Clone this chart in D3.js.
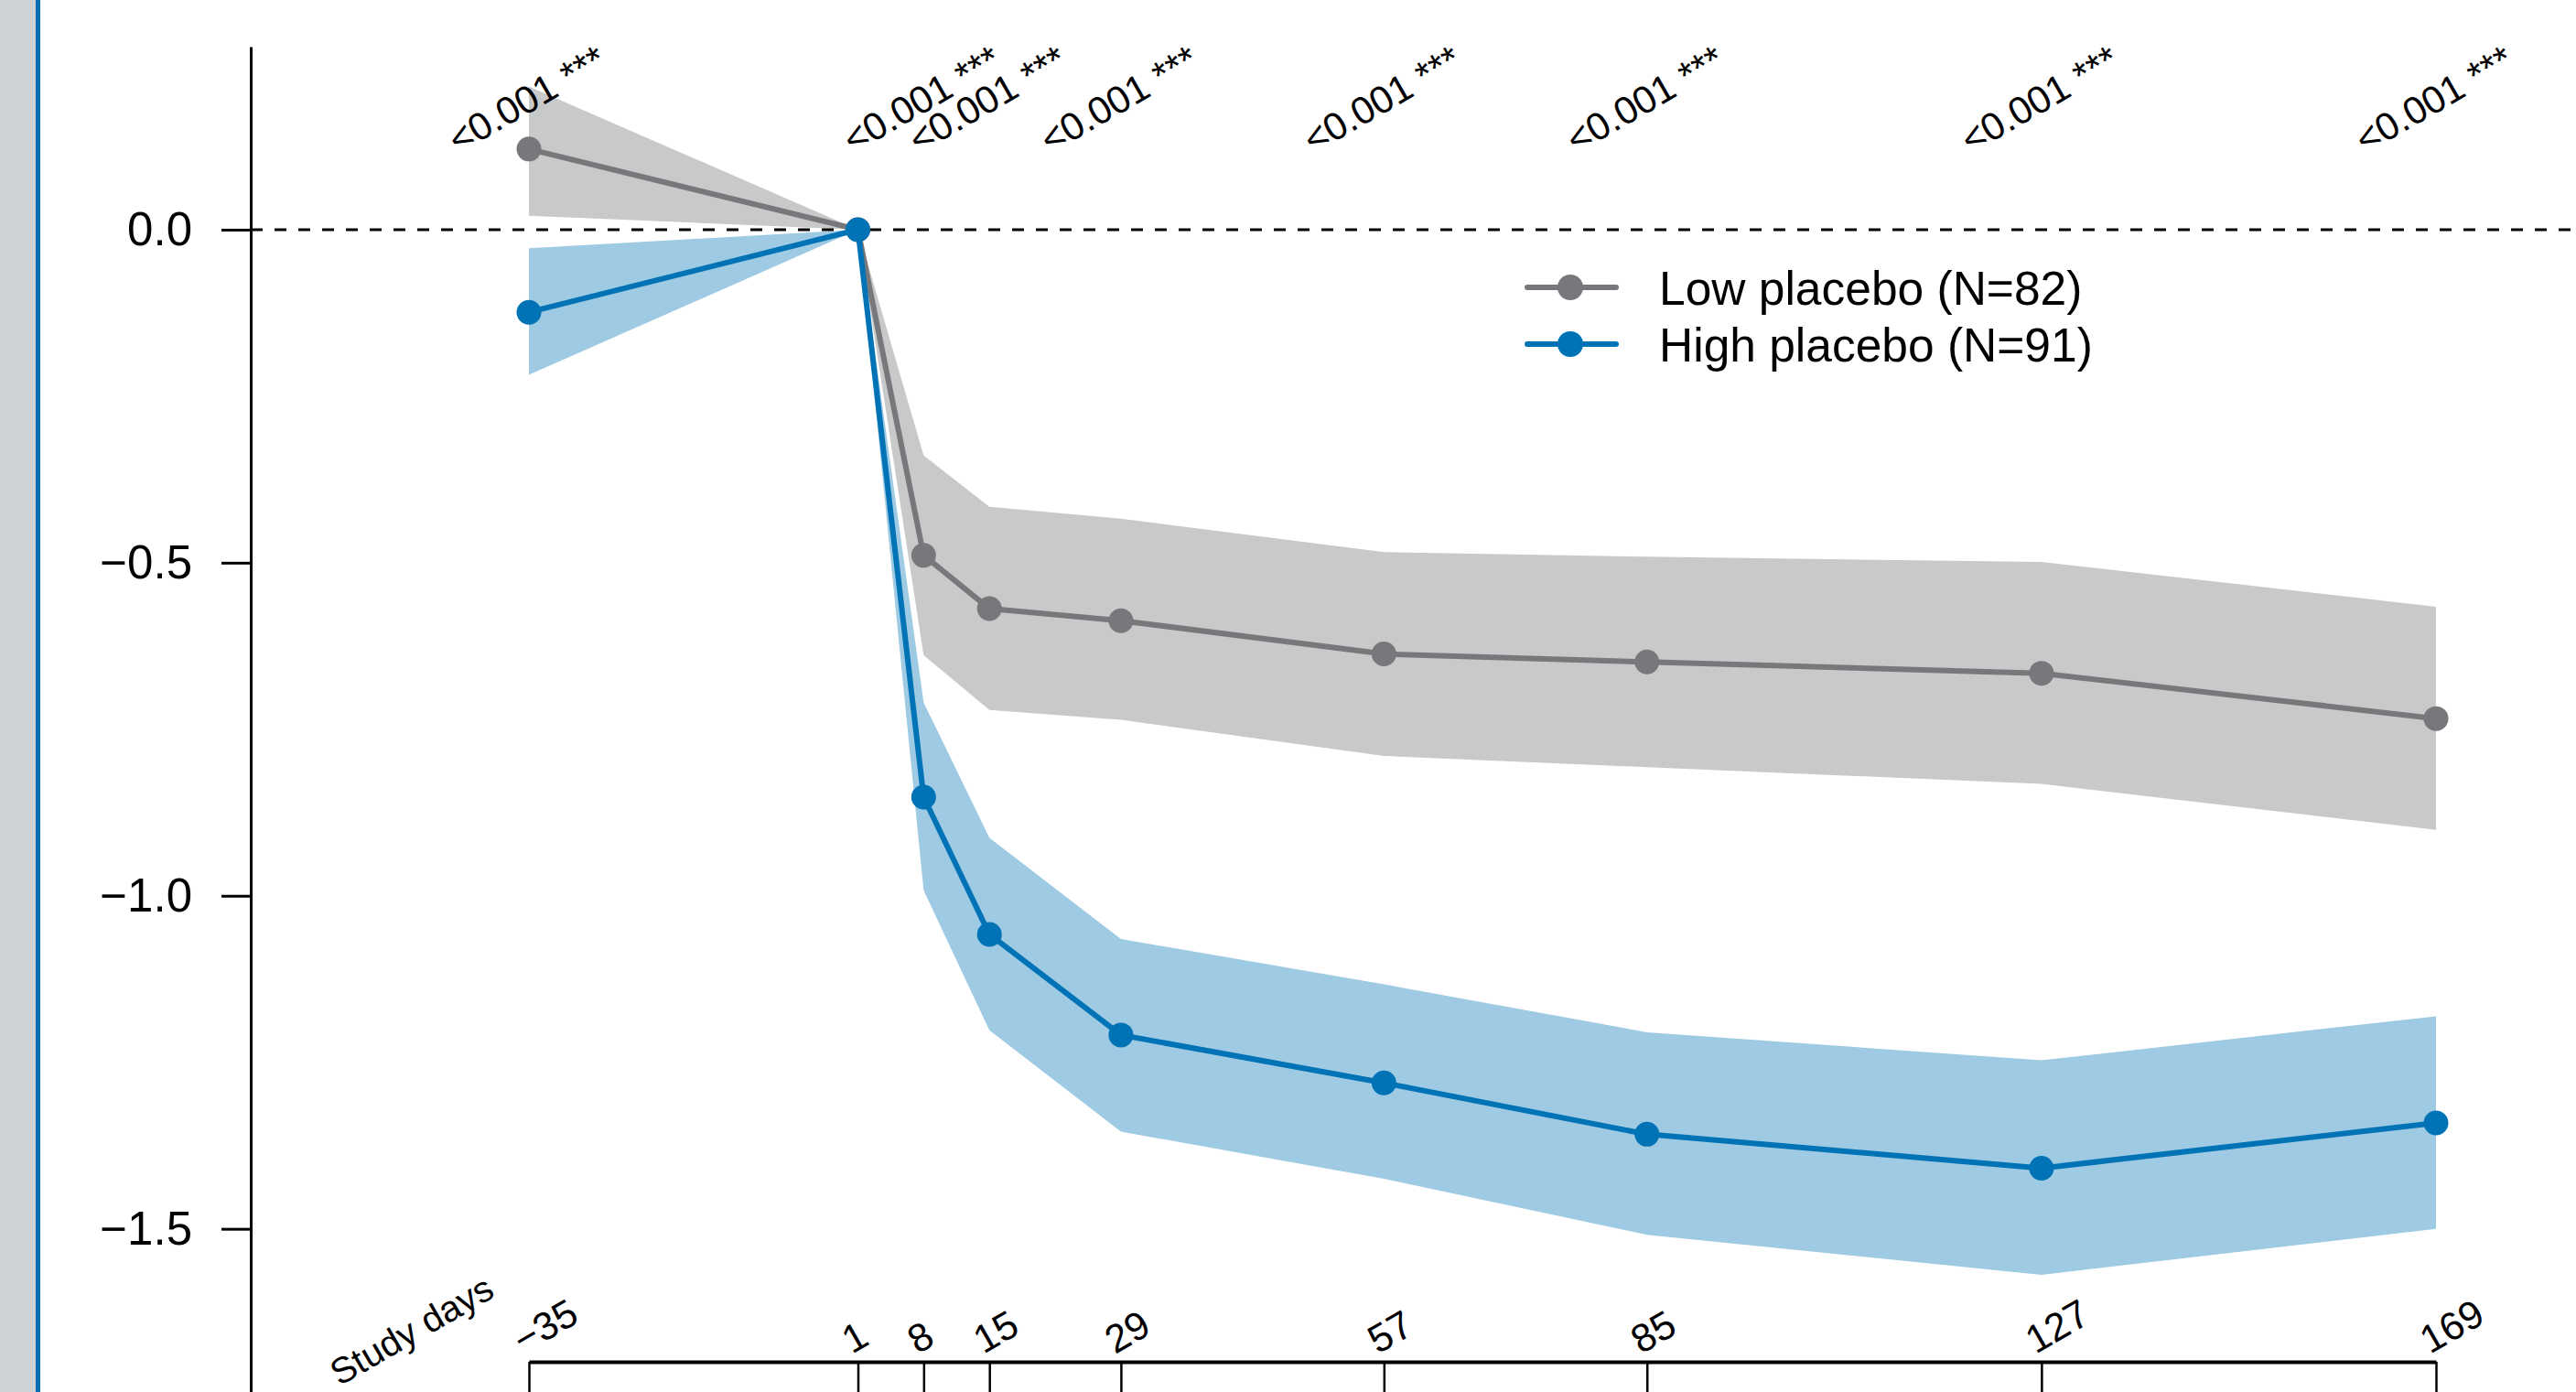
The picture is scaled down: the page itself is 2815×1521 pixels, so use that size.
<!DOCTYPE html>
<html>
<head>
<meta charset="utf-8">
<script src="https://cdn.jsdelivr.net/npm/d3@7.9.0/dist/d3.min.js"></script>
<style>
  body { margin: 0; background: #fff; }
  svg { display: block; font-family: "Liberation Sans", Arial, sans-serif; }
</style>
</head>
<body>
<svg id="chart" width="2815" height="1521"></svg>
<script>
// study visits and the values
const days = [-35, 1, 8, 15, 29, 57, 85, 127, 169];
// p-values are shown for every visit except the baseline (day 1)
const pDays = [-35, 8, 15, 29, 57, 85, 127, 169];
const pLabels = ["<0.001 ***", "<0.001 ***", "<0.001 ***", "<0.001 ***",
                 "<0.001 ***", "<0.001 ***", "<0.001 ***", "<0.001 ***"];

const lowMean  = [0.121, 0, -0.489, -0.569, -0.587, -0.637, -0.649, -0.666, -0.734];
const lowUpper = [0.215, 0, -0.339, -0.416, -0.434, -0.484, -0.491, -0.499, -0.566];
const lowLower = [0.021, 0, -0.639, -0.721, -0.736, -0.790, -0.807, -0.832, -0.901];

const highMean  = [-0.124, 0, -0.852, -1.058, -1.209, -1.281, -1.358, -1.409, -1.341];
const highUpper = [-0.028, 0, -0.710, -0.913, -1.065, -1.133, -1.205, -1.247, -1.181];
const highLower = [-0.218, 0, -0.992, -1.202, -1.354, -1.425, -1.509, -1.569, -1.500];

const yTicks = [0, -0.5, -1, -1.5];
const legendLabels = ["Low placebo (N=82)", "High placebo (N=91)"];

const grey = { line: "#77787b", band: "#c8c9c9" };
const blue = { line: "#0072b6", band: "#9ecae3" };

const svg = d3.select("#chart");

// left side strip
svg.append("rect").attr("x", 0).attr("y", 0).attr("width", 40).attr("height", 1521).attr("fill", "#cdd2d6");
svg.append("rect").attr("x", 39).attr("y", 0).attr("width", 5).attr("height", 1521).attr("fill", "#0b6eb4");

// scales
const x = d3.scaleLinear().domain([-35, 1, 169]).range([578, 937.5, 2662]);
const y = d3.scaleLinear().domain([0.2747, -1.745]).range([51, 1521]);

const series = [
  { mean: lowMean, upper: lowUpper, lower: lowLower, col: grey },
  { mean: highMean, upper: highUpper, lower: highLower, col: blue }
];

const area = d3.area()
  .x(d => x(d.day))
  .y0(d => y(d.lo))
  .y1(d => y(d.hi));

const line = d3.line()
  .x(d => x(d.day))
  .y(d => y(d.v));

// bands
series.forEach(s => {
  const pts = days.map((d, i) => ({ day: d, lo: s.lower[i], hi: s.upper[i] }));
  svg.append("path").attr("d", area(pts)).attr("fill", s.col.band);
});

// zero reference
svg.append("line")
  .attr("x1", 274).attr("x2", 2815)
  .attr("y1", y(0)).attr("y2", y(0))
  .attr("stroke", "#000").attr("stroke-width", 3)
  .attr("stroke-dasharray", "13,13");

// y axis
const yAxis = svg.append("g")
  .attr("transform", "translate(274,0)")
  .call(d3.axisLeft(y).tickValues(yTicks).tickSize(32).tickSizeOuter(0).tickPadding(32)
        .tickFormat(d3.format(".1f")));
yAxis.select(".domain").attr("stroke-width", 3);
yAxis.selectAll(".tick line").attr("stroke-width", 3);
yAxis.selectAll(".tick text")
  .attr("font-size", 51)
  .attr("font-family", "Liberation Sans, Arial, sans-serif")
  .attr("fill", "#000");

// mean lines and points
series.forEach(s => {
  const pts = days.map((d, i) => ({ day: d, v: s.mean[i] }));
  svg.append("path").attr("d", line(pts))
    .attr("fill", "none").attr("stroke", s.col.line)
    .attr("stroke-width", 6).attr("stroke-linejoin", "round");
  svg.append("g").selectAll("circle").data(pts).join("circle")
    .attr("cx", d => x(d.day)).attr("cy", d => y(d.v))
    .attr("r", 13.5).attr("fill", s.col.line);
});

// p-values on top
svg.append("g").selectAll("text").data(pDays).join("text")
  .attr("transform", d => `translate(${x(d) + 5},121) rotate(-30)`)
  .attr("text-anchor", "middle")
  .attr("font-size", 42)
  .text((d, i) => pLabels[i]);

// bottom study-day axis
const xAxis = svg.append("g")
  .attr("transform", "translate(0,1488)")
  .call(d3.axisBottom(x).tickValues(days).tickSize(40).tickSizeOuter(0)
        .tickFormat(d => d < 0 ? "\u2212" + Math.abs(d) : d));
xAxis.select(".domain").attr("stroke-width", 4);
xAxis.selectAll(".tick line").attr("stroke-width", 2.5);
xAxis.selectAll(".tick text")
  .attr("y", 0).attr("dy", 0)
  .attr("text-anchor", "start")
  .attr("transform", "translate(-7,-8) rotate(-30)")
  .attr("font-size", 43)
  .attr("font-family", "Liberation Sans, Arial, sans-serif")
  .attr("fill", "#000");

svg.append("text")
  .attr("transform", "translate(371,1515) rotate(-30)")
  .attr("font-size", 40)
  .text("Study days");

// legend
const legend = svg.append("g");
legendLabels.forEach((lab, i) => {
  const ly = 314 + i * 62;
  const c = series[i].col.line;
  legend.append("line").attr("x1", 1669).attr("x2", 1766).attr("y1", ly).attr("y2", ly)
    .attr("stroke", c).attr("stroke-width", 6).attr("stroke-linecap", "round");
  legend.append("circle").attr("cx", 1716).attr("cy", ly).attr("r", 14).attr("fill", c);
  legend.append("text").attr("x", 1813).attr("y", ly).attr("dy", "0.36em")
    .attr("font-size", 51.5).text(lab);
});
</script>
</body>
</html>
